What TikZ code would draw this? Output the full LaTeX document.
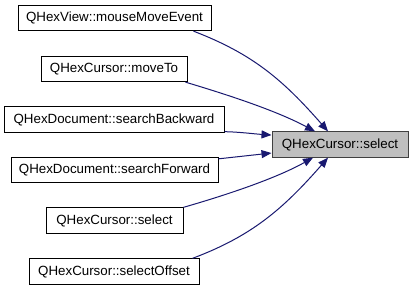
\documentclass[tikz,border=0pt]{standalone}
\usepackage{fontspec}
\setmainfont{Liberation Sans}
\usetikzlibrary{arrows.meta}
\definecolor{edgeblue}{HTML}{191970}
\definecolor{nodegray}{HTML}{BFBFBF}

\begin{document}
\begin{tikzpicture}[x=0.75pt,y=-0.75pt,>={Triangle[length=7.5pt,width=6pt]},
    font=\fontsize{10}{12}\selectfont]
    \tikzstyle{caller}=[draw=black, fill=white, line width=0.75pt,
        inner sep=0pt, minimum height=19pt]
    \tikzstyle{callee}=[draw=black!75, fill=nodegray, line width=0.75pt,
        inner sep=0pt, minimum height=19pt, minimum width=102pt]
    \tikzstyle{call}=[->, edgeblue, line width=0.75pt]

    % Canvas
    \path[fill=white, use as bounding box] (0,0) rectangle (413,291);

    % Callers
    \node[caller, minimum width=144.75pt] (mousemove) at (114.5,18)
        {QHexView::mouseMoveEvent};
    \node[caller, minimum width=109.5pt] (moveto) at (114,69)
        {QHexCursor::moveTo};
    \node[caller, minimum width=165pt] (searchback) at (114,119.5)
        {QHexDocument::searchBackward};
    \node[caller, minimum width=155.25pt] (searchfwd) at (114.5,170)
        {QHexDocument::searchForward};
    \node[caller, minimum width=102.75pt] (selectother) at (114.5,220.5)
        {QHexCursor::select};
    \node[caller, minimum width=127.5pt] (selectoffset) at (114,271.5)
        {QHexCursor::selectOffset};

    % Called function
    \node[callee] (select) at (340,144.5) {QHexCursor::select};

    % Calls
    \draw[call] ([xshift=-13.5pt]mousemove.south east)
        .. controls (253,54) and (283,80) .. ([xshift=-9pt]select.north);
    \draw[call] ([xshift=-1.5pt]moveto.south east)
        .. controls (225,94) and (275,110) .. ([xshift=-18.75pt]select.north);
    \draw[call] ([yshift=0.75pt]searchback.south east)
        .. controls (240,132) and (255,134) .. ([yshift=7.1pt]select.west);
    \draw[call] ([yshift=-1.5pt]searchfwd.north east) -- ([yshift=-6.4pt]select.west);
    \draw[call] (selectother.north east)
        .. controls (223,196) and (275,179) .. ([xshift=-20.25pt]select.south);
    \draw[call] ([xshift=-5.25pt]selectoffset.north east)
        .. controls (252,236) and (283,209) .. ([xshift=-9pt]select.south);
\end{tikzpicture}
\end{document}
